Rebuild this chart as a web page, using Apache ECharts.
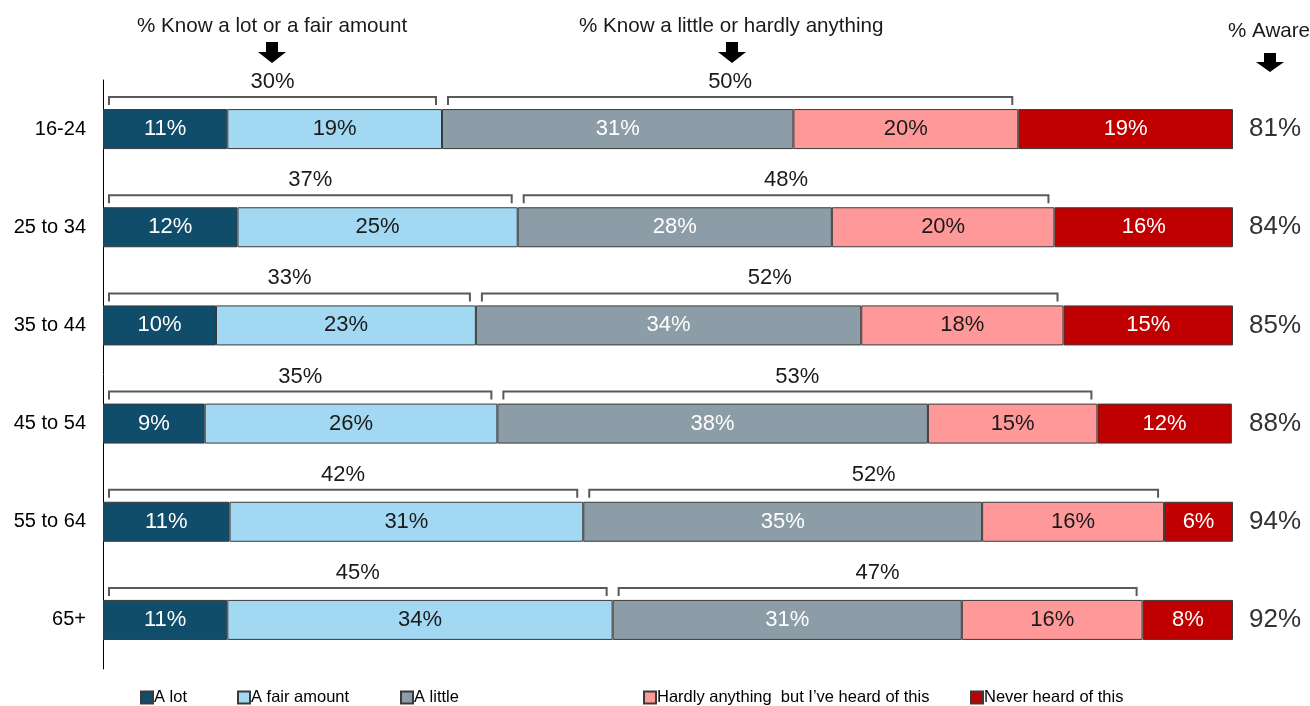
<!DOCTYPE html>
<html>
<head>
<meta charset="utf-8">
<script src="https://cdn.jsdelivr.net/npm/echarts@6/dist/echarts.min.js"></script>
<style>
  html, body { margin: 0; padding: 0; background: #fff; }
  #chart { width: 1310px; height: 706px; }
</style>
</head>
<body>
<div id="chart"></div>
<script>
// data (bar widths estimated, labels are rounded)
var categories = ['16-24', '25 to 34', '35 to 44', '45 to 54', '55 to 64', '65+'];
var aLot    = [11.0, 11.9, 10.0,  9.0, 11.2, 11.0];
var aFair   = [19.0, 24.8, 23.0, 25.9, 31.3, 34.1];
var aLittle = [31.1, 27.8, 34.1, 38.1, 35.3, 30.9];
var hardly  = [19.9, 19.7, 17.9, 15.0, 16.1, 16.0];
var never   = [19.0, 15.8, 15.0, 11.9,  6.1,  8.0];
var knowMost   = [30, 37, 33, 35, 42, 45];
var knowLittle = [50, 48, 52, 53, 52, 47];
var aware      = [81, 84, 85, 88, 94, 92];

var seriesNames = ['A lot', 'A fair amount', 'A little', 'Hardly anything  but I\u2019ve heard of this', 'Never heard of this'];
var seriesData  = [aLot, aFair, aLittle, hardly, never];
var colors      = ['#0F4D6B', '#A3D8F2', '#8C9DA7', '#FF9999', '#C00000'];
var labelColors = ['#ffffff', '#1a1a1a', '#ffffff', '#1a1a1a', '#ffffff'];
var legendLeft  = [135, 232, 395, 638, 965];

var FONT = 'Arial, "Liberation Sans", sans-serif';

var chart = echarts.init(document.getElementById('chart'));

// bracket data: [start, end, category index, label]
var bracketData = [];
for (var i = 0; i < categories.length; i++) {
    var b1 = aLot[i] + aFair[i];
    var b2 = b1 + aLittle[i] + hardly[i];
    bracketData.push([0, b1, i, knowMost[i]]);
    bracketData.push([b1, b2, i, knowLittle[i]]);
}
var awareData = aware.map(function (v, i) { return [100, i, v]; });

var series = seriesData.map(function (d, k) {
    return {
        name: seriesNames[k],
        type: 'bar',
        stack: 'all',
        barWidth: 40,
        data: d,
        itemStyle: { color: colors[k], borderColor: '#3a3a3a', borderWidth: 1 },
        label: {
            show: true,
            position: 'inside',
            color: labelColors[k],
            fontFamily: FONT,
            fontSize: 22,
            formatter: function (p) { return Math.round(p.value) + '%'; }
        },
        emphasis: { disabled: true },
        silent: true
    };
});

series.push({
    type: 'custom',
    silent: true,
    z: 5,
    data: bracketData,
    renderItem: function (params, api) {
        var p0 = api.coord([api.value(0), api.value(2)]);
        var p1 = api.coord([api.value(1), api.value(2)]);
        var x0 = p0[0] + 6, x1 = p1[0] - 6;
        var yl = p0[1] - 32, yt = p0[1] - 24;
        return {
            type: 'group',
            children: [{
                type: 'polyline',
                shape: { points: [[x0, yt], [x0, yl], [x1, yl], [x1, yt]] },
                style: { stroke: '#595959', lineWidth: 2, fill: null }
            }, {
                type: 'text',
                style: {
                    x: (x0 + x1) / 2, y: p0[1] - 47,
                    text: api.value(3) + '%',
                    fill: '#1a1a1a', font: '22px ' + FONT,
                    align: 'center', verticalAlign: 'middle'
                }
            }]
        };
    }
});

series.push({
    type: 'custom',
    silent: true,
    data: awareData,
    renderItem: function (params, api) {
        var p = api.coord([api.value(0), api.value(1)]);
        return {
            type: 'text',
            style: {
                x: p[0] + 16, y: p[1],
                text: api.value(2) + '%',
                fill: '#333333', font: '26px ' + FONT,
                align: 'left', verticalAlign: 'middle'
            }
        };
    }
});

function arrow(cx, y0, y1, y2) {
    return {
        type: 'polygon',
        shape: { points: [[cx - 6, y0], [cx + 6, y0], [cx + 6, y1], [cx + 14, y1], [cx, y2], [cx - 14, y1], [cx - 6, y1]] },
        style: { fill: '#000' }
    };
}

var option = {
    backgroundColor: '#fff',
    animation: false,
    grid: { left: 103, right: 77, top: 80, bottom: 37 },
    xAxis: { type: 'value', min: 0, max: 100, show: false },
    yAxis: {
        type: 'category',
        data: categories,
        inverse: true,
        axisLine: { show: true, lineStyle: { color: '#000', width: 1 } },
        axisTick: { show: false },
        axisLabel: { color: '#000', fontFamily: FONT, fontSize: 20, margin: 17 }
    },
    legend: seriesNames.map(function (n, k) {
        return {
            data: [n],
            left: legendLeft[k],
            top: 684,
            itemWidth: 12,
            itemHeight: 12,
            itemGap: 0,
            icon: 'rect',
            selectedMode: false,
            textStyle: { color: '#000', fontFamily: FONT, fontSize: 16.5, padding: [0, 0, 0, -4] }
        };
    }),
    graphic: [
        { type: 'text', left: 137, top: 16, style: { text: '% Know a lot or a fair amount', fill: '#1a1a1a', font: '20.6px ' + FONT } },
        { type: 'text', left: 579, top: 16, style: { text: '% Know a little or hardly anything', fill: '#1a1a1a', font: '20.6px ' + FONT } },
        { type: 'text', left: 1228, top: 21, style: { text: '% Aware', fill: '#1a1a1a', font: '20.6px ' + FONT } },
        arrow(272, 42, 52, 63),
        arrow(732, 42, 52, 63),
        arrow(1270, 53, 62, 72)
    ],
    series: series
};

chart.setOption(option);
</script>
</body>
</html>
